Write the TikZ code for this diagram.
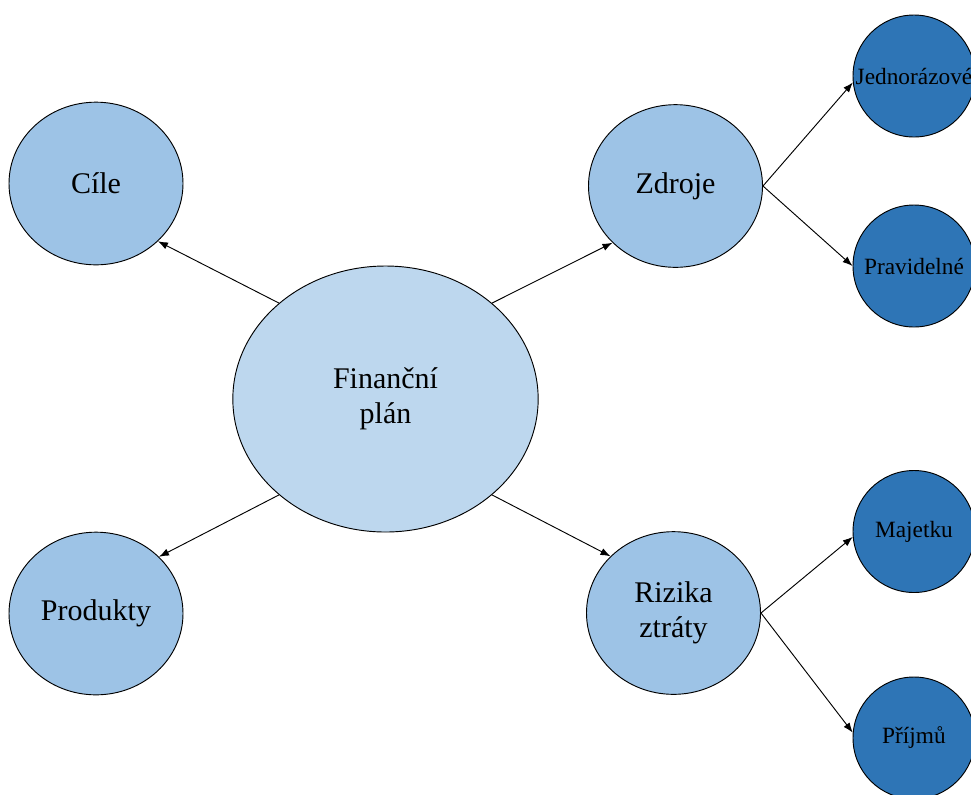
\documentclass[tikz,border=0pt]{standalone}
\usepackage{fontspec}
\setmainfont{Liberation Serif}
\usetikzlibrary{shapes.geometric,arrows.meta}

\definecolor{finblue}{HTML}{BDD7EE}
\definecolor{midblue}{HTML}{9DC3E6}
\definecolor{darkblue}{HTML}{2E75B6}

\begin{document}
\begin{tikzpicture}[x=0.75pt, y=-0.75pt]
    \tikzstyle{bubs}=[draw, ellipse, line width=0.7pt, inner sep=0pt, align=center]
    \tikzstyle{midbub}=[bubs, fill=midblue, minimum width=130.5pt, minimum height=122pt, font=\fontsize{22.5}{26}\selectfont]
    \tikzstyle{smallbub}=[bubs, circle, fill=darkblue, minimum size=91.5pt, font=\fontsize{17.5}{21}\selectfont]
    \tikzstyle{arrs}=[line width=0.7pt,-{Latex[length=7.5pt,width=5.5pt]}]

    \useasboundingbox (0, 0) rectangle (971, 794);

    % centre
    \node[bubs, fill=finblue, minimum width=229pt, minimum height=199.5pt,
          font=\fontsize{22.5}{26}\selectfont] (fin) at (385.5, 399) {Finanční\\plán};

    % first ring
    \node[midbub] (cile) at (96, 183.5) {Cíle};
    \node[midbub] (prod) at (96, 613.5) {Produkty};
    \node[midbub] (zdr) at (675.5, 186) {Zdroje};
    \node[midbub] (riz) at (673.5, 613) {Rizika\\ztráty};

    % second ring, texts may run out of the circle
    \foreach \nm/\y/\txt in {jedn/76/Jednorázové, prav/266/Pravidelné, maj/531.5/Majetku, prij/738/Příjmů} {
        \node[smallbub] (\nm) at (914, \y) {\makebox[0pt]{\txt}};
    }

    \draw[arrs] (fin.138) -- (cile.317);
    \draw[arrs] (fin.42) -- (zdr.222);
    \draw[arrs] (fin.222) -- (prod.42);
    \draw[arrs] (fin.318) -- (riz.138);

    \draw[arrs] (zdr.east) -- (jedn.186);
    \draw[arrs] (zdr.east) -- (prav.west);
    \draw[arrs] (riz.east) -- (maj.185);
    \draw[arrs] (riz.east) -- (prij.175);
\end{tikzpicture}
\end{document}
